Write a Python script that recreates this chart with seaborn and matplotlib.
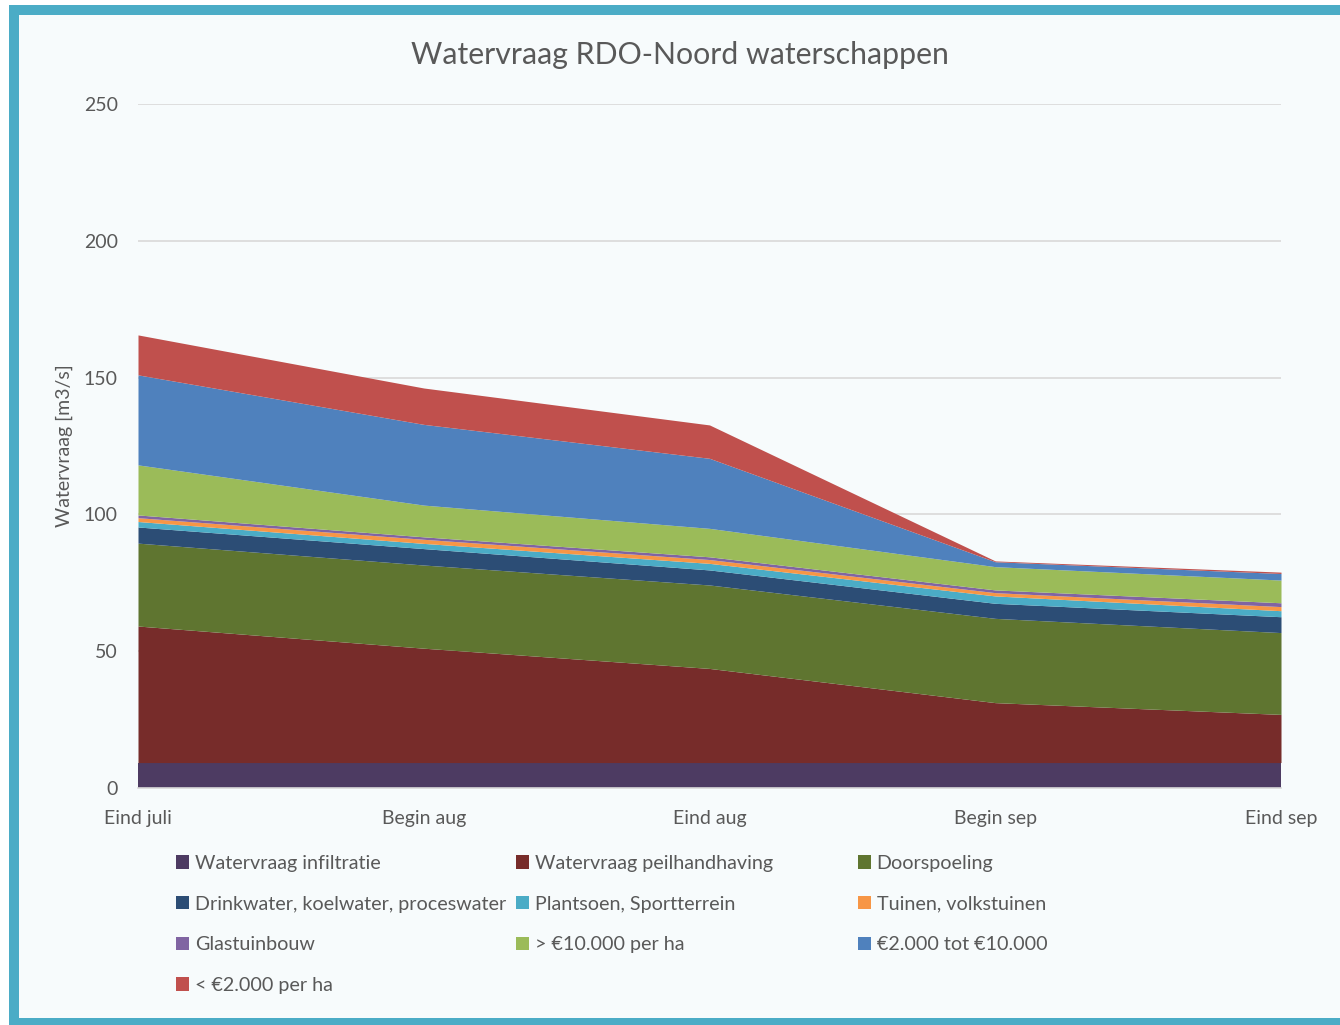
import numpy as np
import seaborn as sns
import matplotlib.pyplot as plt
from matplotlib.patches import Rectangle, Patch

# perioden op de x-as
PERIODS = ['Eind juli', 'Begin aug', 'Eind aug', 'Begin sep', 'Eind sep']

# watervraag per categorie [m3/s], van onder naar boven gestapeld
infiltratie = [9.3, 9.3, 9.3, 9.3, 9.3]
peilhandhaving = [49.9, 41.8, 34.4, 21.9, 17.6]
doorspoeling = [30.3, 30.4, 30.5, 30.8, 29.9]
drinkwater = [5.9, 6.0, 5.5, 5.5, 5.8]
plantsoen = [2.0, 1.9, 2.4, 2.7, 2.2]
tuinen = [1.4, 1.5, 1.4, 1.2, 1.5]
glastuinbouw = [1.0, 0.9, 1.0, 1.0, 1.4]
boven_10000 = [18.3, 11.6, 10.4, 8.5, 8.3]
tussen_2000_10000 = [32.9, 29.5, 25.6, 1.8, 2.4]
onder_2000 = [14.6, 13.3, 12.2, 0.3, 0.5]

LABELS = ['Watervraag infiltratie', 'Watervraag peilhandhaving', 'Doorspoeling',
          'Drinkwater, koelwater, proceswater', 'Plantsoen, Sportterrein',
          'Tuinen, volkstuinen', 'Glastuinbouw', '> €10.000 per ha',
          '€2.000 tot €10.000', '< €2.000 per ha']
COLORS = ['#4D3B62', '#772C2A', '#5F7530', '#2C4D75', '#4BACC6',
          '#F79646', '#8064A2', '#9BBB59', '#4F81BD', '#C0504D']

TEXT = '#595959'
GRID = '#D9D9D9'
BG = '#F7FBFC'

sns.set_style('white')
plt.rcParams['font.family'] = ['Lato', 'DejaVu Sans']

fig = plt.figure(figsize=(13.4, 10.25), dpi=100, facecolor='white')

# teal kader zoals in de Excel-grafiek
W, H = 1340, 1025
fig.patches.append(Rectangle((9 / W, -0.01), 1.1, 1 - 5 / H + 0.01,
                             transform=fig.transFigure, facecolor='#4BACC6',
                             edgecolor='none', zorder=-2))
fig.patches.append(Rectangle((19 / W, 7 / H), 1.1, 1 - 15 / H - 7 / H,
                             transform=fig.transFigure, facecolor=BG,
                             edgecolor='none', zorder=-1))

ax = fig.add_axes([138 / W, 1 - 788 / H, (1281 - 138) / W, (788 - 104) / H])
ax.set_facecolor('none')

x = np.arange(len(PERIODS))
series = [infiltratie, peilhandhaving, doorspoeling, drinkwater, plantsoen,
          tuinen, glastuinbouw, boven_10000, tussen_2000_10000, onder_2000]
polys = ax.stackplot(x, *series, colors=COLORS, labels=LABELS, linewidth=0)

ax.set_xlim(0, 4)
ax.set_ylim(0, 250)
ax.set_yticks(np.arange(0, 251, 50))
ax.set_xticks(x)
ax.set_xticklabels(PERIODS)
ax.yaxis.grid(True, color=GRID, linewidth=1.2)
ax.set_axisbelow(True)
for side in ['left', 'right', 'top']:
    ax.spines[side].set_visible(False)
ax.spines['bottom'].set_color(GRID)
ax.spines['bottom'].set_linewidth(1.2)
ax.tick_params(axis='both', length=0, labelsize=14, labelcolor=TEXT)
ax.tick_params(axis='y', pad=14.5)
ax.tick_params(axis='x', pad=15.5)

ax.set_ylabel('Watervraag [m3/s]', fontsize=14, color=TEXT, labelpad=8)
fig.text(680 / W, 1 - 55 / H, 'Watervraag RDO-Noord waterschappen',
         ha='center', va='center', fontsize=21.8, color=TEXT)

# legenda in drie kolommen met gelijke breedte (rij-voor-rij volgorde)
handles = [Patch(facecolor=c, edgecolor='none') for c in COLORS]
columns = [[0, 3, 6, 9], [1, 4, 7], [2, 5, 8]]
col_x = [176, 516, 858]
for cx, idx in zip(col_x, columns):
    leg = fig.legend([handles[i] for i in idx], [LABELS[i] for i in idx],
                     loc='upper left', bbox_to_anchor=(cx / W, 1 - 855 / H),
                     frameon=False, fontsize=14.2, labelcolor=TEXT,
                     handlelength=0.65, handleheight=0.65, handletextpad=0.3,
                     labelspacing=1.2, borderpad=0, borderaxespad=0)

fig.savefig('out.png', dpi=100, facecolor=fig.get_facecolor())
